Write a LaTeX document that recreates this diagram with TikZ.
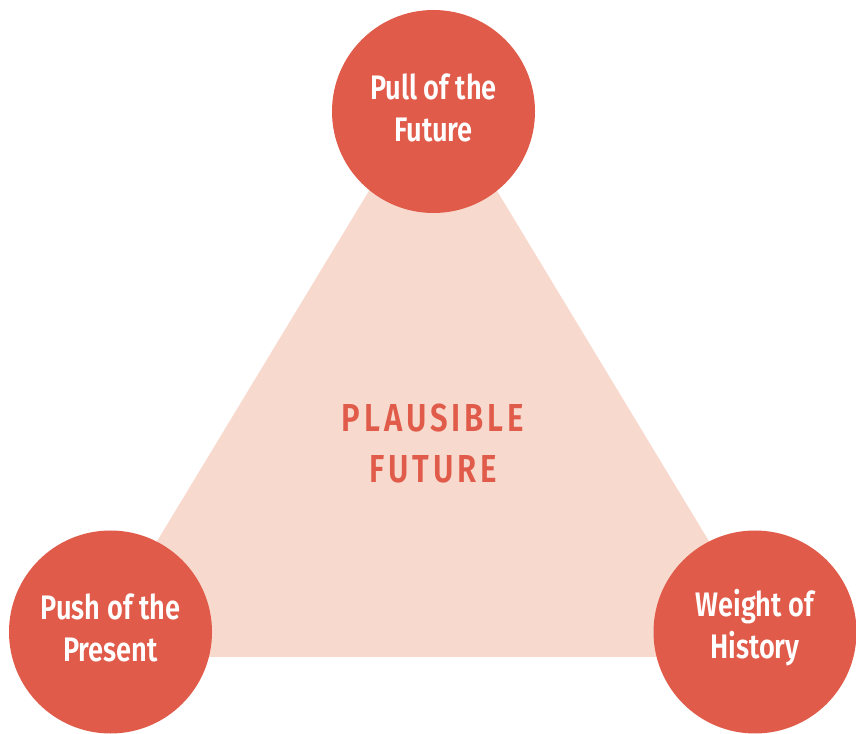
\documentclass[tikz,border=0pt]{standalone}
\usepackage{fontspec}
\setmainfont[FakeStretch=0.8]{Fira Sans}
\newfontfamily\condsemi[FakeStretch=0.8]{Fira Sans SemiBold}
\definecolor{circred}{HTML}{E05B49}
\definecolor{trifill}{HTML}{F8D9CD}
\tikzset{
  force/.style={circle, fill=circred, draw=none, minimum size=203pt, inner sep=0pt},
  forcetext/.style={text=white, align=center, inner sep=0pt,
    font=\condsemi\fontsize{34}{42}\selectfont},
  centerlabel/.style={text=circred, align=center,
    font=\condsemi\fontsize{39}{51}\selectfont}
}
\begin{document}
\begin{tikzpicture}[x=1pt,y=1pt]
\useasboundingbox (0,0) rectangle (856,733);
\coordinate (apex) at (433,648);
\coordinate (bl) at (87,76);
\coordinate (br) at (779,76);
\fill[trifill] (apex) -- (bl) -- (br) -- cycle;
\node[centerlabel] (plaus) at (433,289) {\addfontfeature{LetterSpace=10}PLAUSIBLE\\\addfontfeature{LetterSpace=10}FUTURE};
\node[force] (pull) at (433.5,621.5) {};
\node[force] (push) at (110.5,101) {};
\node[force] (weight) at (755,101) {};
\node[forcetext, yshift=4pt] (pullt) at (pull) {Pull of the\\Future};
\node[forcetext, yshift=4pt] (pusht) at (push) {Push of the\\Present};
\node[forcetext, yshift=4pt] (weightt) at (weight) {Weight of\\History};
\end{tikzpicture}
\end{document}
